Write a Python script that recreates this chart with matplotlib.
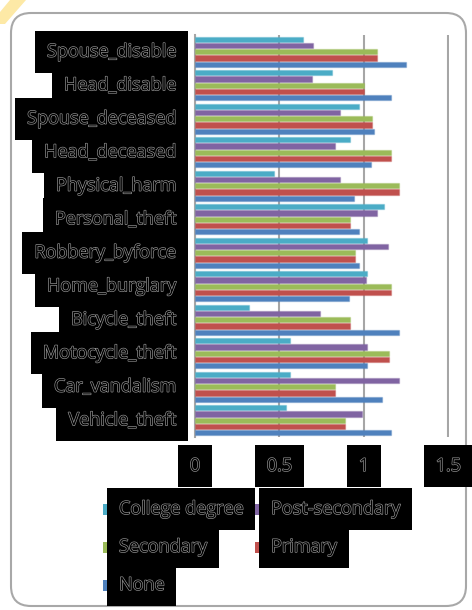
import numpy as np
import matplotlib
matplotlib.use('Agg')
import matplotlib.pyplot as plt
import matplotlib.patheffects as pe
from matplotlib.patches import FancyBboxPatch, Polygon, Rectangle

plt.rcParams['font.family'] = ['Open Sans', 'DejaVu Sans']

categories = ['Spouse_disable', 'Head_disable', 'Spouse_deceased', 'Head_deceased',
              'Physical_harm', 'Personal_theft', 'Robbery_byforce', 'Home_burglary',
              'Bicycle_theft', 'Motocycle_theft', 'Car_vandalism', 'Vehicle_theft']
series = ['College degree', 'Post-secondary', 'Secondary', 'Primary', 'None']
colors = ['#4BACC6', '#8064A2', '#9BBB59', '#C0504D', '#4F81BD']

college = [0.64, 0.81, 0.97, 0.92, 0.47, 1.12, 1.02, 1.02, 0.32, 0.56, 0.56, 0.54]
post_sec = [0.70, 0.69, 0.86, 0.83, 0.86, 1.08, 1.14, 1.01, 0.74, 1.02, 1.21, 0.99]
secondary = [1.08, 1.00, 1.05, 1.16, 1.21, 0.92, 0.95, 1.16, 0.92, 1.15, 0.83, 0.89]
primary = [1.08, 1.00, 1.05, 1.16, 1.21, 0.92, 0.95, 1.16, 0.92, 1.15, 0.83, 0.89]
none = [1.25, 1.16, 1.06, 1.04, 0.94, 0.97, 0.97, 0.91, 1.21, 1.02, 1.11, 1.16]
values = [college, post_sec, secondary, primary, none]

xticks = [0, 0.5, 1, 1.5]
xticklabels = ['0', '0.5', '1', '1.5']

FS = 13
txt_fx = [pe.Stroke(linewidth=0.9, foreground='#9a9a9a'), pe.Normal()]
box = dict(boxstyle='square,pad=0.66', facecolor='black', edgecolor='none')

fig = plt.figure(figsize=(4.72, 6.10), dpi=100)

# rounded chart frame + corner decoration
frame = FancyBboxPatch((0.11, 0.04), 4.55, 5.93, boxstyle='round,pad=0,rounding_size=0.2',
                       transform=fig.dpi_scale_trans, facecolor='white',
                       edgecolor='#a8a8a8', linewidth=1.5, zorder=-2)
fig.patches.append(frame)
corner = Polygon([(0.10, 6.10), (0.26, 6.10), (0.05, 5.86), (0.0, 5.86), (0.0, 5.98)],
                 closed=True, transform=fig.dpi_scale_trans, facecolor='#fde9a6',
                 edgecolor='none', zorder=-3)
fig.patches.append(corner)

ax = fig.add_axes([195 / 472, 173 / 610, 254 / 472, 402 / 610])
ax.set_zorder(1)
ax.patch.set_alpha(0)

y = np.arange(len(categories))
step = 0.1866
for k, (vals, col) in enumerate(zip(values, colors)):
    ax.barh(y + (k - 2) * step, vals, height=0.155, color=col,
            edgecolor=matplotlib.colors.to_rgba(col, 0.35), linewidth=1.0, zorder=3)

ax.set_xlim(0, 1.504)
ax.set_ylim(-0.5, len(categories) - 0.5)
ax.invert_yaxis()
ax.set_xticks(xticks)
ax.set_xticklabels([])
ax.set_yticks([])
ax.tick_params(length=0)
ax.grid(axis='x', color='#a6a6a6', linewidth=1.5, zorder=1)
for s in ['top', 'right', 'bottom']:
    ax.spines[s].set_visible(False)
ax.spines['left'].set_color('#a6a6a6')
ax.spines['left'].set_linewidth(1.5)

# category labels on black boxes
for i, cat in enumerate(categories):
    ax.text(-19 / 254, i, cat, transform=ax.get_yaxis_transform(), ha='right', va='center',
            fontsize=FS, color='black', bbox=box, path_effects=txt_fx, clip_on=False)

# x tick labels
for xv, lab in zip(xticks, xticklabels):
    ax.text(xv, -29 / 402, lab, transform=ax.get_xaxis_transform(), ha='center', va='center',
            fontsize=FS, color='black', bbox=box, path_effects=txt_fx, clip_on=False)

# legend, two columns
leg_pos = [(103, 509), (255, 509), (103, 547), (255, 547), (103, 585)]
for name, col, (px, py) in zip(series, colors, leg_pos):
    fig.patches.append(Rectangle((px / 100, (610 - py - 5.5) / 100), 0.11, 0.11,
                                 transform=fig.dpi_scale_trans, facecolor=col,
                                 edgecolor='none', zorder=2))
    fig.text((px + 16) / 472, (610 - py) / 610, name, ha='left', va='center',
             fontsize=FS, color='black', bbox=box, path_effects=txt_fx, zorder=3)

fig.savefig('out.png', dpi=100)
